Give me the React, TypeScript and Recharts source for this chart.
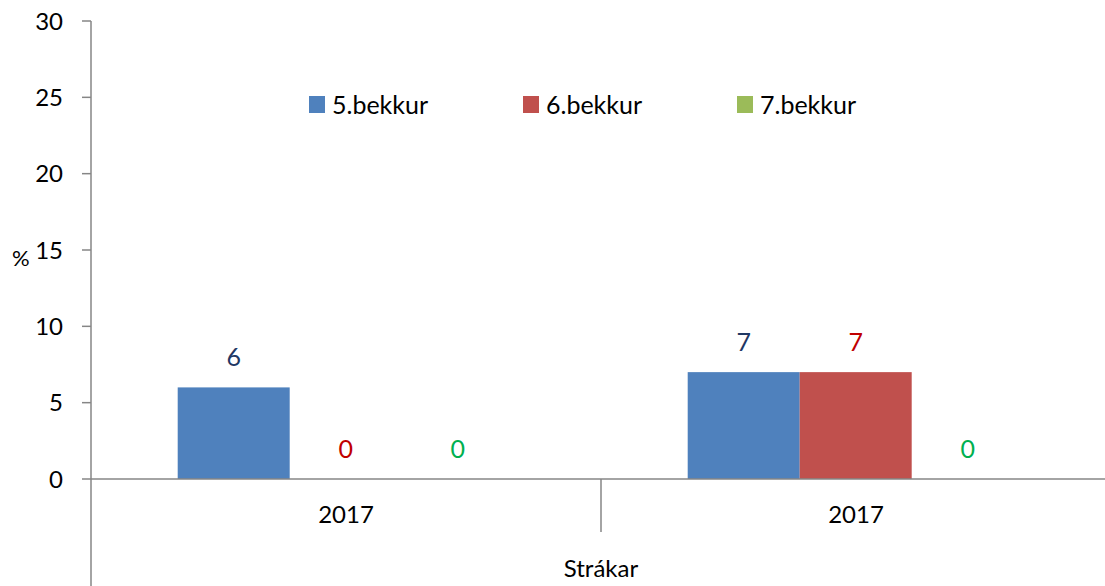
import { BarChart, Bar, XAxis, YAxis } from 'recharts';

const CATEGORIES = ['2017', '2017'];
const GROUP_LABEL = 'Strákar';
const SERIES_NAMES = ['5.bekkur', '6.bekkur', '7.bekkur'];
const BEKKUR5 = [6, 7];
const BEKKUR6 = [0, 7];
const BEKKUR7 = [0, 0];
const Y_TICKS = [0, 5, 10, 15, 20, 25, 30];

const BAR_COLORS = ['#4F81BD', '#C0504D', '#9BBB59'];
const LABEL_COLORS = ['#1F3864', '#C00000', '#00B050'];
const AXIS = '#868686';
const FONT = 'Lato, "Open Sans", sans-serif';

const CHART_W = 1111;
const CHART_H = 586;
const Y_W = 91;
const X_H = 107;
const BAND = (CHART_W - Y_W) / CATEGORIES.length;

const data = CATEGORIES.map((year, i) => ({
  year,
  b5: BEKKUR5[i],
  b6: BEKKUR6[i],
  b7: BEKKUR7[i],
}));

function CategoryTick(props: any) {
  const { x, y, payload, index } = props;
  return (
    <g>
      <text x={x} y={y + 44} textAnchor="middle" fill="#000" fontSize={24} fontFamily={FONT}>
        {payload.value}
      </text>
      {index === 0 && (
        <>
          <line x1={x - BAND / 2} y1={y} x2={x - BAND / 2} y2={y + X_H} stroke={AXIS} strokeWidth={1.5} />
          <line x1={x + BAND / 2} y1={y} x2={x + BAND / 2} y2={y + 53} stroke={AXIS} strokeWidth={1.5} />
        </>
      )}
    </g>
  );
}

// bar plus its value label, so zero-height bars still get their "0"
const barWithLabel = (fill: string, color: string, key: string) => (props: any) => {
  const { x, y, width, height, payload } = props;
  const value = payload[key];
  return (
    <g>
      {height > 0 && <rect x={x} y={y} width={width} height={height} fill={fill} />}
      <text
        x={x + width / 2}
        y={y - 31}
        textAnchor="middle"
        dominantBaseline="central"
        fill={color}
        fontSize={25}
        fontFamily={FONT}
      >
        {value}
      </text>
    </g>
  );
};

export default function App() {
  return (
    <div
      style={{
        position: 'absolute',
        left: 0,
        top: 0,
        width: 1105,
        height: 586,
        overflow: 'hidden',
        background: '#fff',
        fontFamily: FONT,
      }}
    >
      <BarChart
        width={CHART_W}
        height={CHART_H}
        data={data}
        margin={{ top: 21, right: 0, left: 0, bottom: 0 }}
        barCategoryGap="17%"
        barGap={0}
      >
        <XAxis
          dataKey="year"
          height={X_H}
          axisLine={{ stroke: AXIS, strokeWidth: 1.5 }}
          tickLine={false}
          tickSize={0}
          tickMargin={0}
          tick={<CategoryTick />}
          interval={0}
          label={{
            value: GROUP_LABEL,
            position: 'insideBottom',
            offset: 9,
            fill: '#000',
            fontSize: 24,
            fontFamily: FONT,
          }}
        />
        <YAxis
          width={Y_W}
          domain={[0, 30]}
          ticks={Y_TICKS}
          interval={0}
          axisLine={{ stroke: AXIS, strokeWidth: 1.5 }}
          tickLine={{ stroke: AXIS, strokeWidth: 1.5 }}
          tickSize={9}
          tickMargin={19}
          tick={{ fill: '#000', fontSize: 24, fontFamily: FONT }}
          label={{
            value: '%',
            position: 'insideLeft',
            offset: 12,
            dy: 8,
            fill: '#000',
            fontSize: 22,
            fontFamily: FONT,
          }}
        />
        <Bar
          dataKey="b5"
          name={SERIES_NAMES[0]}
          fill={BAR_COLORS[0]}
          isAnimationActive={false}
          shape={barWithLabel(BAR_COLORS[0], LABEL_COLORS[0], 'b5')}
        />
        <Bar
          dataKey="b6"
          name={SERIES_NAMES[1]}
          fill={BAR_COLORS[1]}
          isAnimationActive={false}
          shape={barWithLabel(BAR_COLORS[1], LABEL_COLORS[1], 'b6')}
        />
        <Bar
          dataKey="b7"
          name={SERIES_NAMES[2]}
          fill={BAR_COLORS[2]}
          isAnimationActive={false}
          shape={barWithLabel(BAR_COLORS[2], LABEL_COLORS[2], 'b7')}
        />
      </BarChart>
      <div style={{ position: 'absolute', top: 91, left: 309, display: 'flex' }}>
        {SERIES_NAMES.map((name, i) => (
          <div key={name} style={{ width: 214, display: 'flex', alignItems: 'center' }}>
            <span style={{ width: 16, height: 17, background: BAR_COLORS[i], marginRight: 7 }} />
            <span style={{ fontSize: 25, lineHeight: '26px', color: '#000' }}>{name}</span>
          </div>
        ))}
      </div>
    </div>
  );
}
